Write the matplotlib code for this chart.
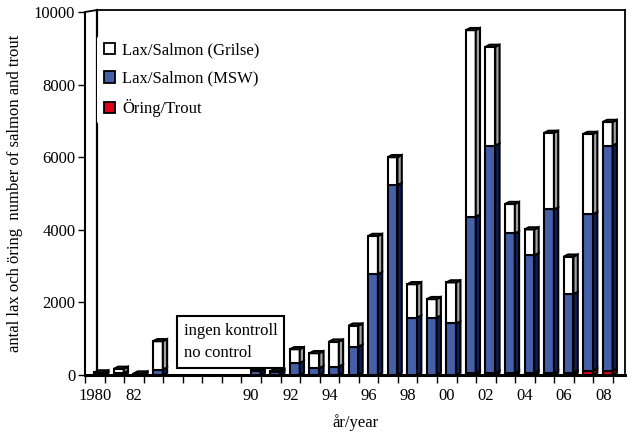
import numpy as np
import matplotlib
matplotlib.use("Agg")
from matplotlib import pyplot as plt
from matplotlib.patches import Patch

plt.rcParams['font.family'] = ['Liberation Serif', 'DejaVu Serif']

# categories (the years 1984-89 have no data, 4 empty slots on the axis)
labels = ["1980", "", "82", "", "", "", "", "",
          "90", "", "92", "", "94", "", "96", "", "98", "",
          "00", "", "02", "", "04", "", "06", "", "08"]
years = [1980, 1981, 1982, 1983, None, None, None, None,
         1990, 1991, 1992, 1993, 1994, 1995, 1996, 1997, 1998, 1999,
         2000, 2001, 2002, 2003, 2004, 2005, 2006, 2007, 2008]

trout = [0, 0, 0, 0, 0, 0, 0, 0,
         0, 0, 0, 0, 0, 0, 0, 0, 0, 0,
         0, 60, 60, 60, 60, 60, 60, 120, 120]
msw = [20, 60, 10, 150, 0, 0, 0, 0,
       110, 80, 330, 190, 230, 780, 2780, 5230, 1580, 1580,
       1420, 4300, 6260, 3840, 3240, 4500, 2170, 4310, 6200]
grilse = [50, 110, 30, 780, 0, 0, 0, 0,
          40, 30, 380, 410, 690, 580, 1050, 770, 920, 510,
          1130, 5140, 2720, 810, 710, 2110, 1030, 2210, 650]

fig = plt.figure(figsize=(6.33, 4.36), dpi=100)
ax = fig.add_axes([85 / 633, 61 / 436, 540 / 633, 363 / 436])

n = len(labels)
depth = 12 / (528 / n)   # back wall offset, in category units
ax.set_xlim(0, n + depth)
ax.set_ylim(0, 10000)

w = 0.5       # front face width
dx = 0.22     # depth in x
dy = 60       # depth in y (data units)

series = [(trout, "#e0001c", "#8a0010"),
          (msw, "#4560a8", "#0c2060"),
          (grilse, "white", "#a0a0a0")]

bottom = np.zeros(n)
for vals, front, side in series:
    vals = np.array(vals, dtype=float)
    for i in range(n):
        if years[i] is None or vals[i] <= 0:
            continue
        x0 = i + 0.48
        b = bottom[i]
        t = b + vals[i]
        ax.bar(x0, vals[i], width=w, bottom=b, align='edge', color=front,
               edgecolor='black', linewidth=1.5, zorder=3)
        ax.fill([x0 + w, x0 + w + dx, x0 + w + dx, x0 + w],
                [b, b + dy, t + dy, t], facecolor=side,
                edgecolor='black', linewidth=1.5, zorder=3)
    bottom += vals

# top faces
for i in range(n):
    if years[i] is None or bottom[i] <= 0:
        continue
    x0 = i + 0.48
    t = bottom[i]
    ax.fill([x0, x0 + w, x0 + w + dx, x0 + dx], [t, t, t + dy, t + dy],
            facecolor='white', edgecolor='black', linewidth=1.5, zorder=4)

# axes styling
for s in ['top', 'right']:
    ax.spines[s].set_visible(False)
ax.spines['left'].set_linewidth(1.5)
ax.spines['bottom'].set_linewidth(2.2)

# back wall edges
ox = 12 / 540
oy = 2 / 363
ax.plot([0, ox, 1], [1, 1 + oy, 1 + oy], transform=ax.transAxes,
        color='black', lw=1.3, clip_on=False, zorder=1)
ax.plot([ox, ox], [0.01, 1 + oy], transform=ax.transAxes,
        color='black', lw=1.6, clip_on=False, zorder=1)
ax.plot([1, 1], [0.005, 1 + oy], transform=ax.transAxes,
        color='black', lw=1.3, clip_on=False, zorder=1)

ax.set_yticks(np.arange(0, 10001, 2000))
ax.set_xticks(np.arange(0, n + 1), minor=False)
ax.set_xticklabels([])
ax.set_xticks(np.arange(n) + 0.5, minor=True)
ax.set_xticklabels(labels, minor=True)
ax.tick_params(axis='x', which='major', length=6, width=1)
ax.tick_params(axis='x', which='minor', length=0, pad=9, labelsize=12)
ax.tick_params(axis='y', length=5, width=1, labelsize=12, pad=2)

ax.set_xlabel("år/year", fontsize=12, labelpad=8)
ax.set_ylabel("antal lax och öring  number of salmon and trout", fontsize=12, labelpad=8)

handles = [Patch(facecolor='white', edgecolor='black', linewidth=1.3),
           Patch(facecolor='#4560a8', edgecolor='black', linewidth=1.3),
           Patch(facecolor='#e0001c', edgecolor='black', linewidth=1.3)]
leg = ax.legend(handles, ["Lax/Salmon (Grilse)", "Lax/Salmon (MSW)", "Öring/Trout"],
                loc='upper left', bbox_to_anchor=(0.022, 0.935), fontsize=12,
                frameon=True, facecolor='white', edgecolor='none', framealpha=1,
                handlelength=0.7, handleheight=0.7, handletextpad=0.4,
                labelspacing=0.75, borderpad=0.4, borderaxespad=0)
leg.set_zorder(5)

ax.text(5.05, 390, "ingen kontroll\nno control", fontsize=12, ha='left', va='bottom',
        linespacing=1.5, zorder=6,
        bbox=dict(boxstyle='square,pad=0.4', facecolor='white', edgecolor='black', linewidth=1.5))

fig.savefig("out.png", dpi=100)
